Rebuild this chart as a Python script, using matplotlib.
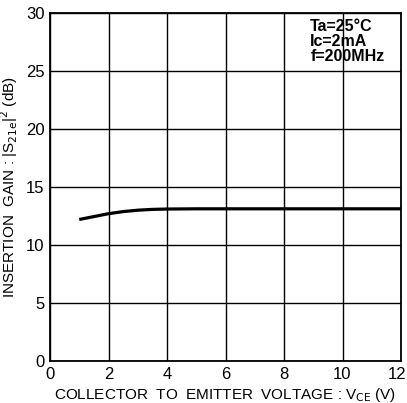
import numpy as np
import matplotlib
matplotlib.use('Agg')
import matplotlib.pyplot as plt
from matplotlib import font_manager
from matplotlib.transforms import ScaledTranslation

# data
vce = [1.0, 1.5, 2.0, 2.5, 3.0, 3.5, 4.0, 5.0, 6.0, 8.0, 10.0, 12.0]
gain = [12.2, 12.45, 12.7, 12.88, 13.0, 13.07, 13.1, 13.12, 13.12, 13.12, 13.12, 13.12]

xticks = [0, 2, 4, 6, 8, 10, 12]
yticks = [0, 5, 10, 15, 20, 25, 30]

names = {f.name for f in font_manager.fontManager.ttflist}
narrow = 'Liberation Sans Narrow' if 'Liberation Sans Narrow' in names else 'Liberation Sans'
plt.rcParams['font.family'] = [narrow, 'DejaVu Sans']

fig = plt.figure(figsize=(4.07, 4.03), dpi=100)
ax = fig.add_axes([50/407, 1 - 361/403, 351/407, 348/403])

ax.plot(vce, gain, color='black', lw=2.3, solid_capstyle='butt')

ax.set_xlim(0, 12)
ax.set_ylim(0, 30)
ax.set_xticks(xticks)
ax.set_yticks(yticks)
ax.grid(True, color='black', lw=1.0)
ax.tick_params(length=0, labelsize=12, pad=4)
for s in ax.spines.values():
    s.set_linewidth(1.3)

# keep the last x tick label inside the figure
last = ax.get_xticklabels()[-1]
last.set_transform(last.get_transform() + ScaledTranslation(-4/100, 0, fig.dpi_scale_trans))

ax.set_xlabel(r'COLLECTOR  TO  EMITTER  VOLTAGE : V$_{\rm CE}$ (V)', fontsize=11, labelpad=3)
ax.set_ylabel(r'INSERTION  GAIN : |S$_{\rm 21e}$|$^2$ (dB)', fontsize=11, labelpad=4)

ax.text(8.9, 29.5, 'Ta=25°C\nIc=2mA\nf=200MHz', fontsize=11.5, va='top', ha='left',
        linespacing=1.0, fontweight='bold', family=['Liberation Sans', 'DejaVu Sans'])

fig.savefig('out.png', dpi=100)
